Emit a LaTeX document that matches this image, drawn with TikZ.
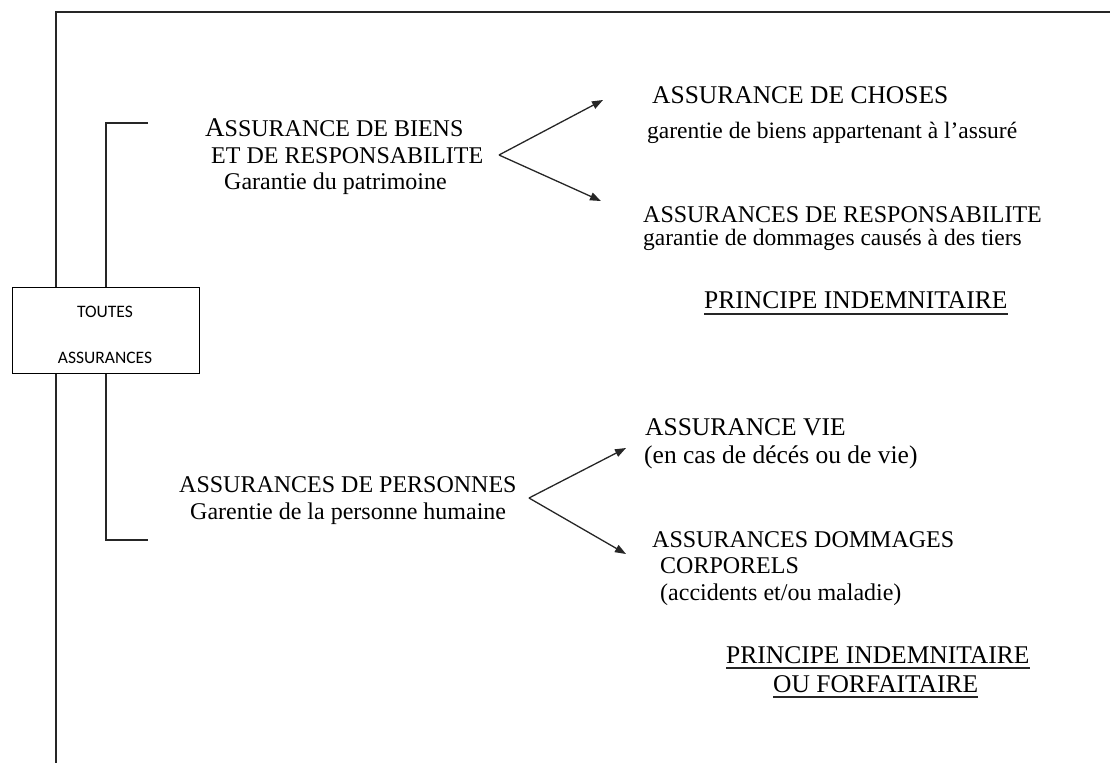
\documentclass[tikz,border=0pt]{standalone}
\usepackage{fontspec}
\setmainfont{Liberation Serif}
\newfontfamily\boxfont{Carlito}
\usetikzlibrary{arrows.meta}
\begin{document}
\begin{tikzpicture}[x=1pt,y=-1pt,
  txt/.style={anchor=base west, inner sep=0pt, font=\fontsize{24}{24}\selectfont},
  txtsm/.style={anchor=base west, inner sep=0pt, font=\fontsize{23.5}{23.5}\selectfont},
  txtlg/.style={anchor=base west, inner sep=0pt, font=\fontsize{25.5}{25.5}\selectfont},
  head/.style={txt},
  prin/.style={anchor=base west, inner sep=0pt, font=\fontsize{25.5}{25.5}\selectfont},
  boxtxt/.style={anchor=base, inner sep=0pt, font=\boxfont\fontsize{17.5}{17.5}\selectfont},
  ln/.style={line width=1.4pt, black!85},
  arr/.style={line width=1.3pt, black!85, -{Triangle[length=11pt,width=8pt]}},
  uline/.style={line width=1.5pt, black!85},
]
\useasboundingbox (0,0) rectangle (1110,763);
% frame
\coordinate (fr1) at (1110,12);
\coordinate (fr2) at (56,12);
\coordinate (fr3) at (56,763);
\draw[ln] (fr1) -- (fr2) -- (fr3);
% bracket
\coordinate (b1) at (148,123);
\coordinate (b2) at (106,123);
\coordinate (b3) at (106,540);
\coordinate (b4) at (148,540);
\draw[ln] (b1) -- (b2) -- (b3) -- (b4);
% box
\node[draw, line width=1.3pt, fill=white, inner sep=0pt, minimum width=187pt, minimum height=86pt, anchor=north west] (box) at (12,287) {};
\node[boxtxt] (t1) at (105,317) {TOUTES};
\node[boxtxt] (t2) at (105,363) {ASSURANCES};
% upper left group
\node[head] (g1a) at (205,136) {{\fontsize{27}{27}\selectfont A}SSURANCE DE BIENS};
\node[head] (g1b) at (211,163) {ET DE RESPONSABILITE};
\node[txt] (g1c) at (224,189) {Garantie du patrimoine};
% upper right
\node[txtlg] (c1) at (652,103) {ASSURANCE DE CHOSES};
\node[txtsm] (c2) at (647,138) {garentie de biens appartenant à l’assuré};
\node[head] (r1) at (643,222) {ASSURANCES DE RESPONSABILITE};
\node[txtsm] (r2) at (643,245) {garantie de dommages causés à des tiers};
\node[prin] (p1) at (704,308) {PRINCIPE INDEMNITAIRE};
\draw[uline] ([yshift=-6pt]p1.base west) -- ([yshift=-6pt]p1.base east);
% arrows upper
\coordinate (v1) at (499,155);
\coordinate (v1a) at (603,100);
\coordinate (v1b) at (601,201);
\draw[arr] (v1) -- (v1a);
\draw[arr] (v1) -- (v1b);
% lower left group
\node[head] (g2a) at (179,492) {ASSURANCES DE PERSONNES};
\node[txt] (g2b) at (190,519) {Garentie de la personne humaine};
% lower right
\node[txtlg] (l1) at (645,435) {ASSURANCE VIE};
\node[txtlg] (l2) at (644,463) {(en cas de décés ou de vie)};
\node[head] (d1) at (652,547) {ASSURANCES DOMMAGES};
\node[head] (d2) at (660,573) {CORPORELS};
\node[txt] (d3) at (660,600) {(accidents et/ou maladie)};
\node[prin] (p2) at (726,663) {PRINCIPE INDEMNITAIRE};
\draw[uline] ([yshift=-5pt]p2.base west) -- ([yshift=-5pt]p2.base east);
\node[prin] (p3) at (773,692) {OU FORFAITAIRE};
\draw[uline] ([yshift=-5pt]p3.base west) -- ([yshift=-5pt]p3.base east);
% arrows lower
\coordinate (v2) at (529,498);
\coordinate (v2a) at (626,448);
\coordinate (v2b) at (626,554);
\draw[arr] (v2) -- (v2a);
\draw[arr] (v2) -- (v2b);
\end{tikzpicture}
\end{document}
